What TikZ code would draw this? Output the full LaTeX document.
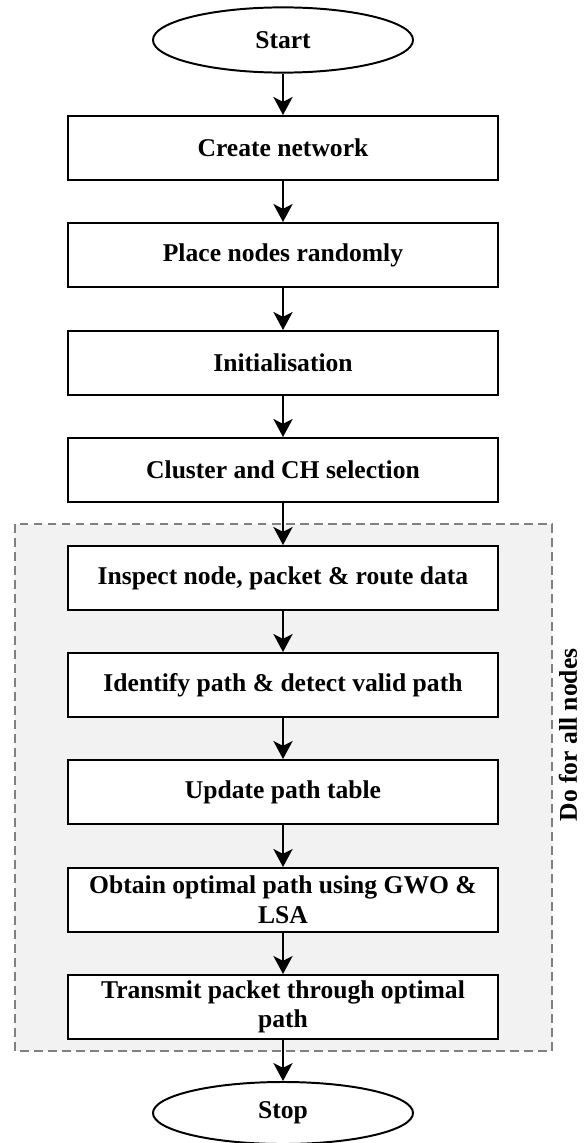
\documentclass[tikz,border=0pt]{standalone}
\usepackage{fontspec}
\setmainfont{Liberation Serif}
\usetikzlibrary{shapes.geometric,arrows.meta}

\begin{document}
\begin{tikzpicture}[x=0.025cm,y=-0.025cm,line width=1.4pt,
	font=\fontsize{18.2}{21}\selectfont\bfseries,
	box/.style={draw,fill=white,minimum width=10.75cm,minimum height=1.6cm,align=center,inner sep=0pt},
	term/.style={draw,ellipse,fill=white,minimum width=6.5cm,minimum height=1.63cm,inner sep=0pt},
	flow/.style={-{Stealth[length=4.5mm,width=4.8mm,inset=1.2mm]}}]
	\useasboundingbox (0,0) rectangle (584,1143);
	% loop region
	\draw[gray,dash pattern=on 0.22cm off 0.13cm,fill=black!5,line width=1pt] (15,524) rectangle (552,1051);
	\node[rotate=90,inner sep=0pt] (loop) at (568,735) {Do for all nodes};
	% start and stop
	\node[term] (start) at (283,40) {Start};
	\node[term,minimum height=1.55cm] (stop) at (283,1113) {Stop};
	% steps
	\node[box] (create) at (283,148) {Create network};
	\node[box] (place) at (283,255) {Place nodes randomly};
	\node[box] (init) at (283,363) {Initialisation};
	\node[box] (cluster) at (283,470) {Cluster and CH selection};
	\node[box] (inspect) at (283,578) {Inspect node, packet \& route data};
	\node[box] (identify) at (283,685) {Identify path \& detect valid path};
	\node[box] (update) at (283,792) {Update path table};
	\node[box] (obtain) at (283,900) {Obtain optimal path using GWO \&\\LSA};
	\node[box] (transmit) at (283,1007) {Transmit packet through optimal\\path};
	% arrows
	\foreach \a/\b in {start/create,create/place,place/init,init/cluster,cluster/inspect,
		inspect/identify,identify/update,update/obtain,obtain/transmit,transmit/stop}
		\draw[flow] (\a) -- (\b);
\end{tikzpicture}
\end{document}
